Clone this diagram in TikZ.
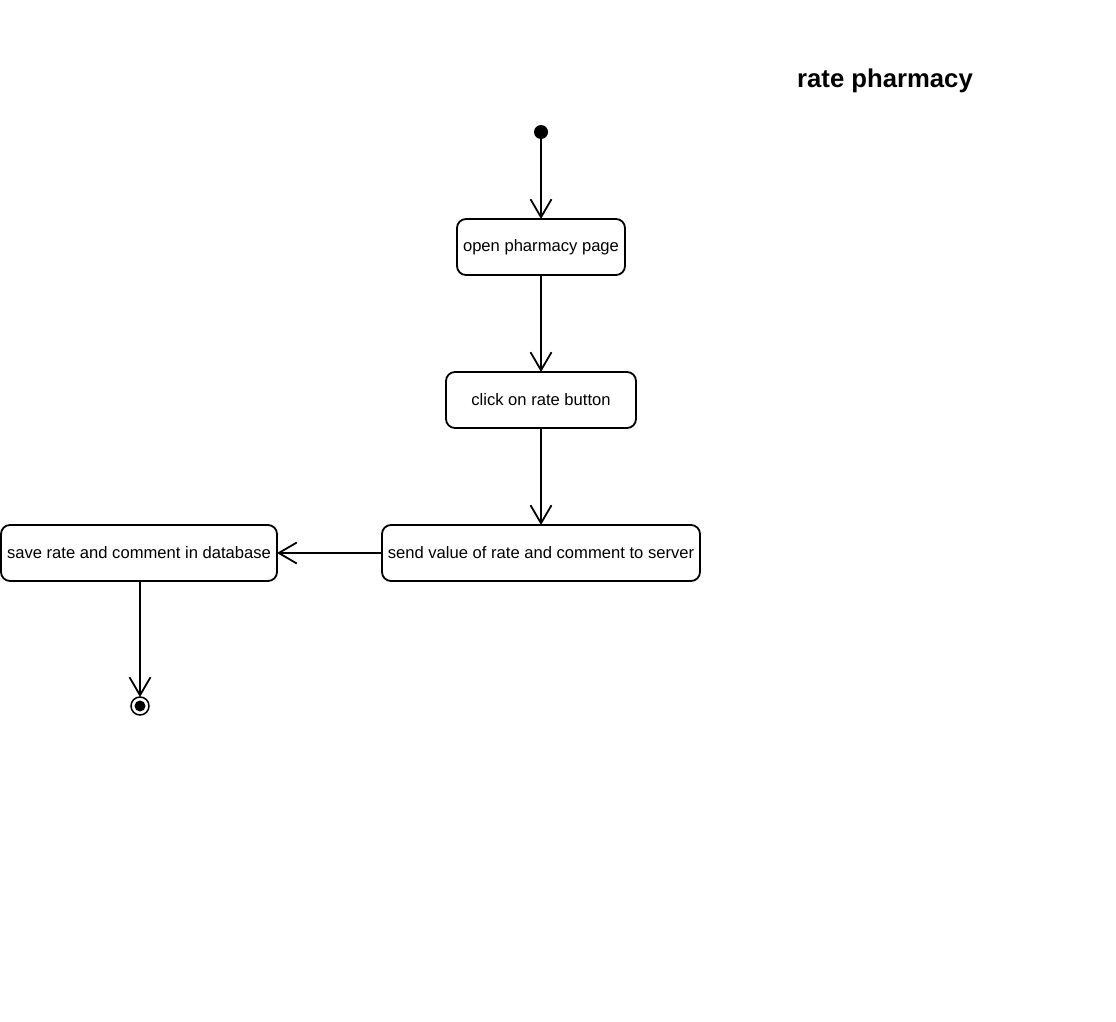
\documentclass[tikz,border=0pt]{standalone}
\usepackage{fontspec}
\setmainfont{Liberation Sans}
\usetikzlibrary{arrows.meta}
\begin{document}
\begin{tikzpicture}[x=1pt,y=-1pt,
  state/.style={draw, line width=1.8pt, rounded corners=9pt, fill=white,
    inner sep=0pt, outer sep=0pt, font=\fontsize{16.6}{20}\selectfont},
  flow/.style={line width=1.8pt, -{Straight Barb[length=18pt,width=21pt]}},
  title/.style={font=\fontsize{25.7}{30}\selectfont\bfseries}]
  \useasboundingbox (0,0) rectangle (1116,1022);

  % diagram title
  \node[title] (ttl) at (885,81) {rate pharmacy};

  % initial pseudostate
  \fill (541,132) circle (7) coordinate (start);

  % activity states
  \node[state, minimum width=168pt, minimum height=56pt] (open) at (541,247) {open pharmacy page};
  \node[state, minimum width=190pt, minimum height=56pt] (click) at (541,400) {click on rate button};
  \node[state, minimum width=318pt, minimum height=56pt] (send) at (541,553) {send value of rate and comment to server};
  \node[state, minimum width=276pt, minimum height=56pt] (save) at (139,553) {save rate and comment in database};

  % final state
  \node[circle, draw, line width=1.5pt, minimum size=18pt, inner sep=0pt, outer sep=0pt] (end) at (140,706) {};
  \fill (end.center) circle (5.5);

  % transitions
  \draw[flow] (start) -- (open.north);
  \draw[flow] (open) -- (click);
  \draw[flow] (click) -- (send);
  \draw[flow] (send) -- (save);
  \draw[flow] (save.south -| end) -- (end);
\end{tikzpicture}
\end{document}
